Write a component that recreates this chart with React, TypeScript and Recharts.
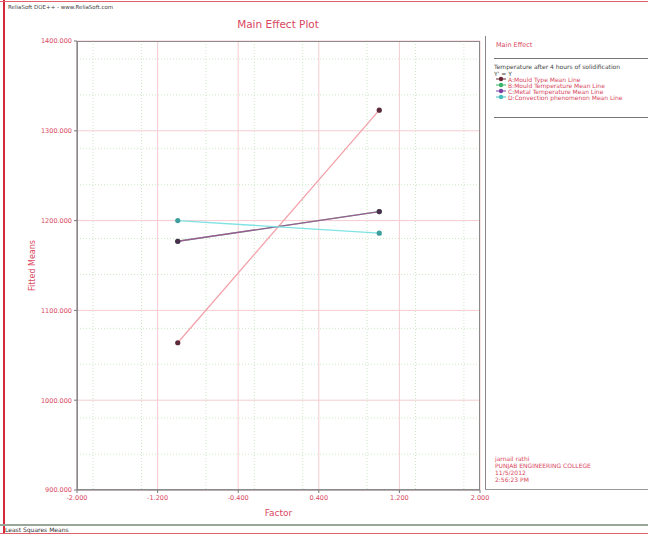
import { LineChart, Line, XAxis, YAxis, CartesianGrid, Label } from "recharts"

const xTicks = [-2, -1.2, -0.4, 0.4, 1.2, 2]
const yTicks = [900, 1000, 1100, 1200, 1300, 1400]
const levels = [-1, 1]

const mouldType = [1064, 1323]
const mouldTemp = [1177, 1210]
const metalTemp = [1177, 1210]
const convection = [1200, 1186]

const seriesNames = [
  "A:Mould Type Mean Line",
  "B:Mould Temperature Mean Line",
  "C:Metal Temperature Mean Line",
  "D:Convection phenomenon Mean Line",
]

const footerLines = ["jarnail rathi", "PUNJAB ENGINEERING COLLEGE", "11/5/2012", "2:56:23 PM"]

const toPoints = (vals: number[]) => levels.map((x, i) => ({ x, y: vals[i] }))

const series = [
  { name: seriesNames[0], data: toPoints(mouldType), stroke: "#f3a2aa", dot: "#5c2a3a", key: "#6b2535" },
  { name: seriesNames[1], data: toPoints(mouldTemp), stroke: "#7fd08f", dot: "#3f9a55", key: "#3cb36b" },
  { name: seriesNames[2], data: toPoints(metalTemp), stroke: "#9a5a94", dot: "#4a2f4f", key: "#7a3fa0" },
  { name: seriesNames[3], data: toPoints(convection), stroke: "#7fe3e3", dot: "#3f9f9f", key: "#45bdbd" },
]

// minor grid: 5 subdivisions between major ticks
const minor = (ticks: number[]) => {
  const out: number[] = []
  for (let i = 0; i < ticks.length - 1; i++) {
    const step = (ticks[i + 1] - ticks[i]) / 5
    for (let k = 1; k < 5; k++) out.push(ticks[i] + step * k)
  }
  return out
}

const red = "#d8475e"
const tickStyle = { fill: red, fontSize: 6.5, fontFamily: "DejaVu Sans" }

export default function App() {
  return (
    <div
      style={{
        position: "absolute",
        left: 0,
        top: 0,
        width: 648,
        height: 534,
        background: "#fff",
        fontFamily: "DejaVu Sans, sans-serif",
        overflow: "hidden",
      }}
    >
      <LineChart
        width={648}
        height={534}
        margin={{ top: 41, right: 168, bottom: 24, left: 32 }}
      >
        <CartesianGrid
          stroke="#cfe8c8"
          strokeDasharray="1 2"
          horizontalValues={minor(yTicks)}
          verticalValues={minor(xTicks)}
        />
        <CartesianGrid stroke="#f5ccd0" horizontalValues={yTicks} verticalValues={xTicks} />
        <XAxis
          dataKey="x"
          type="number"
          domain={[-2, 2]}
          ticks={xTicks}
          tickFormatter={(v: number) => v.toFixed(3)}
          tick={tickStyle}
          stroke="#777"
          tickSize={3}
          height={20}
          allowDuplicatedCategory={false}
        >
          <Label value="Factor" position="insideBottom" offset={-6} style={{ fill: red, fontSize: 9 }} />
        </XAxis>
        <YAxis
          dataKey="y"
          type="number"
          domain={[900, 1400]}
          ticks={yTicks}
          tickFormatter={(v: number) => v.toFixed(3)}
          tick={tickStyle}
          stroke="#777"
          tickSize={3}
          width={45}
        >
          <Label value="Fitted Means" angle={-90} position="insideLeft" offset={0} style={{ fill: red, fontSize: 8, textAnchor: "middle" }} />
        </YAxis>
        {series.map((s) => (
          <Line
            key={s.name}
            data={s.data}
            dataKey="y"
            name={s.name}
            type="linear"
            stroke={s.stroke}
            strokeWidth={1.3}
            dot={{ r: 2.6, fill: s.dot, stroke: s.dot, strokeWidth: 0 }}
            isAnimationActive={false}
          />
        ))}
      </LineChart>

      {/* plot frame */}
      <div style={{ position: "absolute", left: 77, top: 41, width: 403, height: 449, border: "1px solid #8a8a8a", boxSizing: "border-box", pointerEvents: "none" }} />

      {/* outer frame */}
      <div style={{ position: "absolute", left: 3, top: 0, width: 2, height: 534, background: "#d42a3c" }} />
      <div style={{ position: "absolute", left: 0, top: 1, width: 648, height: 1, background: "#e0606e" }} />
      <div style={{ position: "absolute", left: 0, top: 533, width: 648, height: 1, background: "#e0606e" }} />
      <div style={{ position: "absolute", left: 0, top: 524, width: 648, height: 2, background: "#9aa69a" }} />
      <div style={{ position: "absolute", left: 5, top: 526, fontSize: 6, color: "#333" }}>Least Squares Means</div>

      <div style={{ position: "absolute", left: 8, top: 4, fontSize: 5.5, color: "#444" }}>
        ReliaSoft DOE++ - www.ReliaSoft.com
      </div>
      <div style={{ position: "absolute", left: 0, top: 18, width: 556, textAlign: "center", fontSize: 10.5, color: red }}>
        Main Effect Plot
      </div>

      {/* right panel */}
      <div style={{ position: "absolute", left: 485, top: 36, width: 1, height: 453, background: "#888" }} />
      <div style={{ position: "absolute", left: 485, top: 489, width: 163, height: 1, background: "#999" }} />
      <div style={{ position: "absolute", left: 496, top: 41, fontSize: 6.5, color: red }}>Main Effect</div>
      <div style={{ position: "absolute", left: 494, top: 58, width: 154, height: 1, background: "#777" }} />
      <div style={{ position: "absolute", left: 494, top: 63, fontSize: 6, color: "#444", whiteSpace: "nowrap" }}>
        Temperature after 4 hours of solidification
      </div>
      <div style={{ position: "absolute", left: 494, top: 70, fontSize: 6, color: "#444" }}>Y' = Y</div>
      {series.map((s, i) => (
        <div key={s.name} style={{ position: "absolute", left: 496, top: 76 + i * 6, height: 6, display: "flex", alignItems: "center", whiteSpace: "nowrap" }}>
          <svg width={10} height={6}>
            <line x1={0} y1={3} x2={10} y2={3} stroke={s.key} strokeWidth={1} />
            <circle cx={5} cy={3} r={2.2} fill={s.key} />
          </svg>
          <span style={{ marginLeft: 2, fontSize: 6, color: red }}>{s.name}</span>
        </div>
      ))}
      <div style={{ position: "absolute", left: 494, top: 117, width: 154, height: 1, background: "#777" }} />
      {footerLines.map((t, i) => (
        <div key={t} style={{ position: "absolute", left: 495, top: 455 + i * 7, fontSize: 6, color: red, whiteSpace: "nowrap" }}>{t}</div>
      ))}
    </div>
  )
}
